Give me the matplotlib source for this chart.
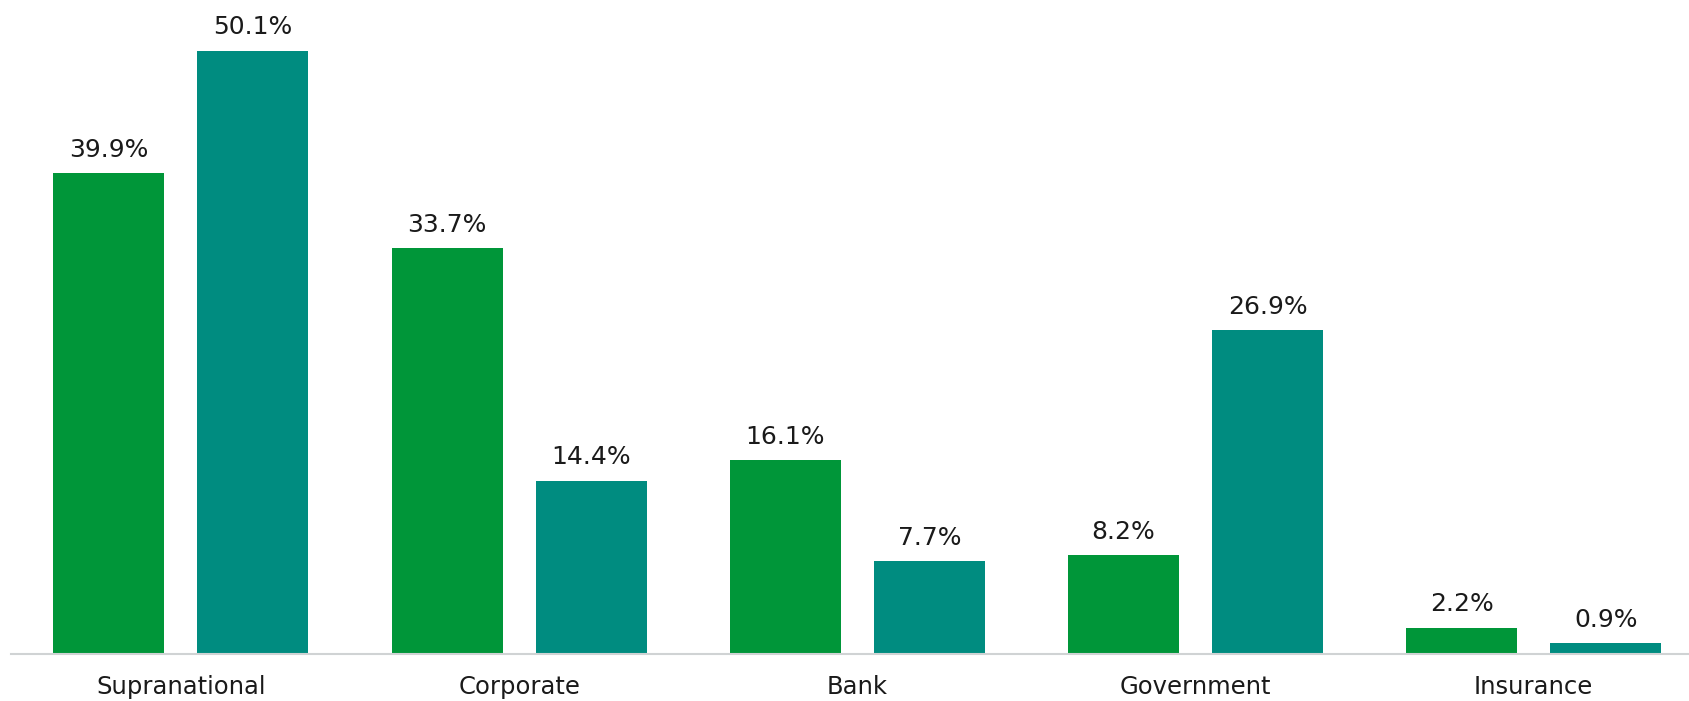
import matplotlib
matplotlib.use("Agg")
import matplotlib.pyplot as plt
import numpy as np

categories = ["Supranational", "Corporate", "Bank", "Government", "Insurance"]
series_a = [39.9, 33.7, 16.1, 8.2, 2.2]
series_b = [50.1, 14.4, 7.7, 26.9, 0.9]
labels_a = ["39.9%", "33.7%", "16.1%", "8.2%", "2.2%"]
labels_b = ["50.1%", "14.4%", "7.7%", "26.9%", "0.9%"]

color_a = "#009639"
color_b = "#008C80"

plt.rcParams['font.family'] = ['DejaVu Sans']

fig = plt.figure(figsize=(16.9, 7.01), dpi=100)
ax = fig.add_axes([10.8 / 1690, 47 / 701, 1 - 10.8 / 1690, 654 / 701])

x = np.arange(len(categories))
w = 0.328
off = 0.213
ba = ax.bar(x - off, series_a, width=w, color=color_a)
bb = ax.bar(x + off, series_b, width=w, color=color_b)

for bars, labs in ((ba, labels_a), (bb, labels_b)):
    for rect, lab in zip(bars, labs):
        ax.annotate(lab, (rect.get_x() + rect.get_width() / 2, rect.get_height()),
                    xytext=(0, 8), textcoords="offset points",
                    ha="center", va="bottom", fontsize=18, color="#1a1a1a")

ax.set_xlim(-0.503, 4.462)
ax.set_ylim(0, 54.3)
ax.set_xticks(x)
ax.set_xticklabels(categories, fontsize=17.5, color="#1a1a1a")
ax.tick_params(axis="x", length=0, pad=15)
ax.set_yticks([])
for s in ["top", "right", "left"]:
    ax.spines[s].set_visible(False)
ax.spines["bottom"].set_color("#d0d3d4")
ax.spines["bottom"].set_linewidth(1.5)

fig.savefig("out.png", dpi=100)
